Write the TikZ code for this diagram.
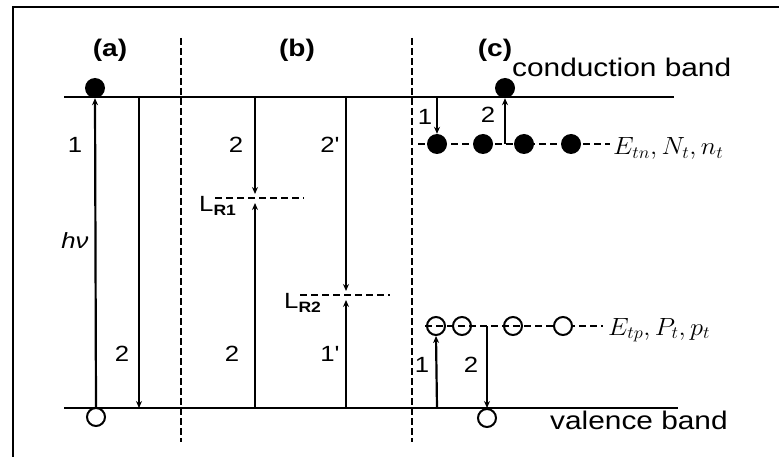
\documentclass[tikz,border=0pt]{standalone}
\usepackage{fontspec}
\usetikzlibrary{arrows.meta}
\newfontfamily\lab{Liberation Sans}[FakeStretch=1.17]
\begin{document}
\begin{tikzpicture}[x=1pt,y=-1pt,
  band/.style={line width=1.5pt},
  trans/.style={line width=2.2pt},
  tipend/.style={-{Stealth[length=7pt,width=6pt]}},
  sep/.style={line width=2.3pt, dash pattern=on 7pt off 3pt},
  lvl/.style={line width=1.3pt, dash pattern=on 7pt off 4pt},
  edot/.style={circle, fill=black, inner sep=0pt, minimum size=20pt},
  hdot/.style={circle, draw, line width=2pt, inner sep=0pt, minimum size=18pt},
  lbl/.style={font=\lab\fontsize{22}{22}\selectfont, inner sep=0pt},
  head/.style={font=\lab\bfseries\fontsize{24}{24}\selectfont, inner sep=0pt},
  bandlbl/.style={font=\lab\fontsize{25.5}{25.5}\selectfont, inner sep=0pt, anchor=base west},
  mlbl/.style={inner sep=0pt, anchor=base west}
]
\useasboundingbox (0,0) rectangle (779,457);
% frame
\draw[line width=2.8pt] (13,457) -- (13,7) -- (779,7);

% bands
\coordinate (cbL) at (64,97);  \coordinate (cbR) at (674,97);
\coordinate (vbL) at (64,408); \coordinate (vbR) at (678,408);
\draw[band] (cbL) -- (cbR);
\draw[band] (vbL) -- (vbR);

% separators
\coordinate (s1t) at (181,38); \coordinate (s1b) at (181,442);
\coordinate (s2t) at (412,38); \coordinate (s2b) at (412,442);
\draw[sep] (s1t) -- (s1b);
\draw[sep] (s2t) -- (s2b);

% headings
\node[head] (ha) at (110,50) {(a)};
\node[head] (hb) at (297,50) {(b)};
\node[head] (hc) at (495,50) {(c)};
\node[bandlbl] (cbl) at (512,77) {conduction band};
\node[bandlbl] (vbl) at (550,429) {valence band};

% ---- panel (a)
\node[edot] (ea) at (95,88) {};
\node[hdot] (hoa) at (96,417) {};
\draw[trans,tipend] (hoa.north) -- (ea.south);
\coordinate (a2t) at (139,97); \coordinate (a2b) at (139,408);
\draw[trans,tipend] (a2t) -- (a2b);
\node[lbl] (a1) at (75,145) {1};
\node[lbl,font=\lab\itshape\fontsize{22}{22}\selectfont] (hnu) at (75,241) {hν};
\node[lbl] (a2) at (122,354) {2};

% ---- panel (b)
\coordinate (b1t) at (255,97); \coordinate (b1m) at (255,198); \coordinate (b1b) at (255,408);
\coordinate (r1l) at (215,198); \coordinate (r1r) at (304,198);
\draw[lvl] (r1l) -- (r1r);
\draw[trans,tipend,shorten >=4pt] (b1t) -- (b1m);
\draw[trans,tipend,shorten >=5pt] (b1b) -- (b1m);
\node[lbl,anchor=base west] (lr1) at (199,212) {L\raisebox{-4pt}{\fontsize{15}{15}\selectfont\bfseries R1}};
\node[lbl] (b2u) at (236,145) {2};
\node[lbl] (b2d) at (232,354) {2};

\coordinate (b2t) at (346,97); \coordinate (b2m) at (346,295); \coordinate (b2b) at (346,408);
\coordinate (r2l) at (300,295); \coordinate (r2r) at (390,295);
\draw[lvl] (r2l) -- (r2r);
\draw[trans,tipend,shorten >=4pt] (b2t) -- (b2m);
\draw[trans,tipend,shorten >=5pt] (b2b) -- (b2m);
\node[lbl,anchor=base west] (lr2) at (284,308) {L\raisebox{-4pt}{\fontsize{15}{15}\selectfont\bfseries R2}};
\node[lbl] (b2p) at (330,145) {2'};
\node[lbl] (b1p) at (330,354) {1'};

% ---- panel (c): electron traps
\coordinate (tnl) at (418,144); \coordinate (tnr) at (610,144);
\draw[lvl] (tnl) -- (tnr);
\node[edot] (t1) at (437,144) {};
\node[edot] (t2) at (483,144) {};
\node[edot] (t3) at (524,144) {};
\node[edot] (t4) at (571,144) {};
\node[edot] (ec) at (505,88) {};
\coordinate (c1t) at (437,97);
\coordinate (c2b) at (505,144);
\draw[trans,tipend] (c1t) -- (t1.north);
\draw[trans,tipend] (c2b) -- (ec.south);
\node[lbl] (c1) at (425,117) {1};
\node[lbl] (c2) at (488,115) {2};
\node[mlbl] (etn) at (613,155) {\scalebox{1.06}[1]{\fontsize{24}{24}\selectfont$E_{tn}, N_t, n_t$}};

% ---- panel (c): hole traps
\coordinate (tpl) at (425,326); \coordinate (tpr) at (603,326);
\draw[lvl] (tpl) -- (tpr);
\node[hdot] (p1) at (436,326) {};
\node[hdot] (p2) at (462,326) {};
\node[hdot] (p3) at (513,326) {};
\node[hdot,fill=white] (p4) at (563,326) {};
\node[hdot,fill=white] (hc2) at (487,418) {};
\coordinate (c3b) at (437,408);
\coordinate (c4t) at (487,326);
\draw[trans,tipend] (c3b) -- (p1.south);
\draw[trans,tipend] (c4t) -- (hc2.north);
\node[lbl] (c3) at (422,365) {1};
\node[lbl] (c4) at (471,365) {2};
\node[mlbl] (etp) at (608,335) {\scalebox{1.06}[1]{\fontsize{24}{24}\selectfont$E_{tp}, P_t, p_t$}};
\end{tikzpicture}
\end{document}
